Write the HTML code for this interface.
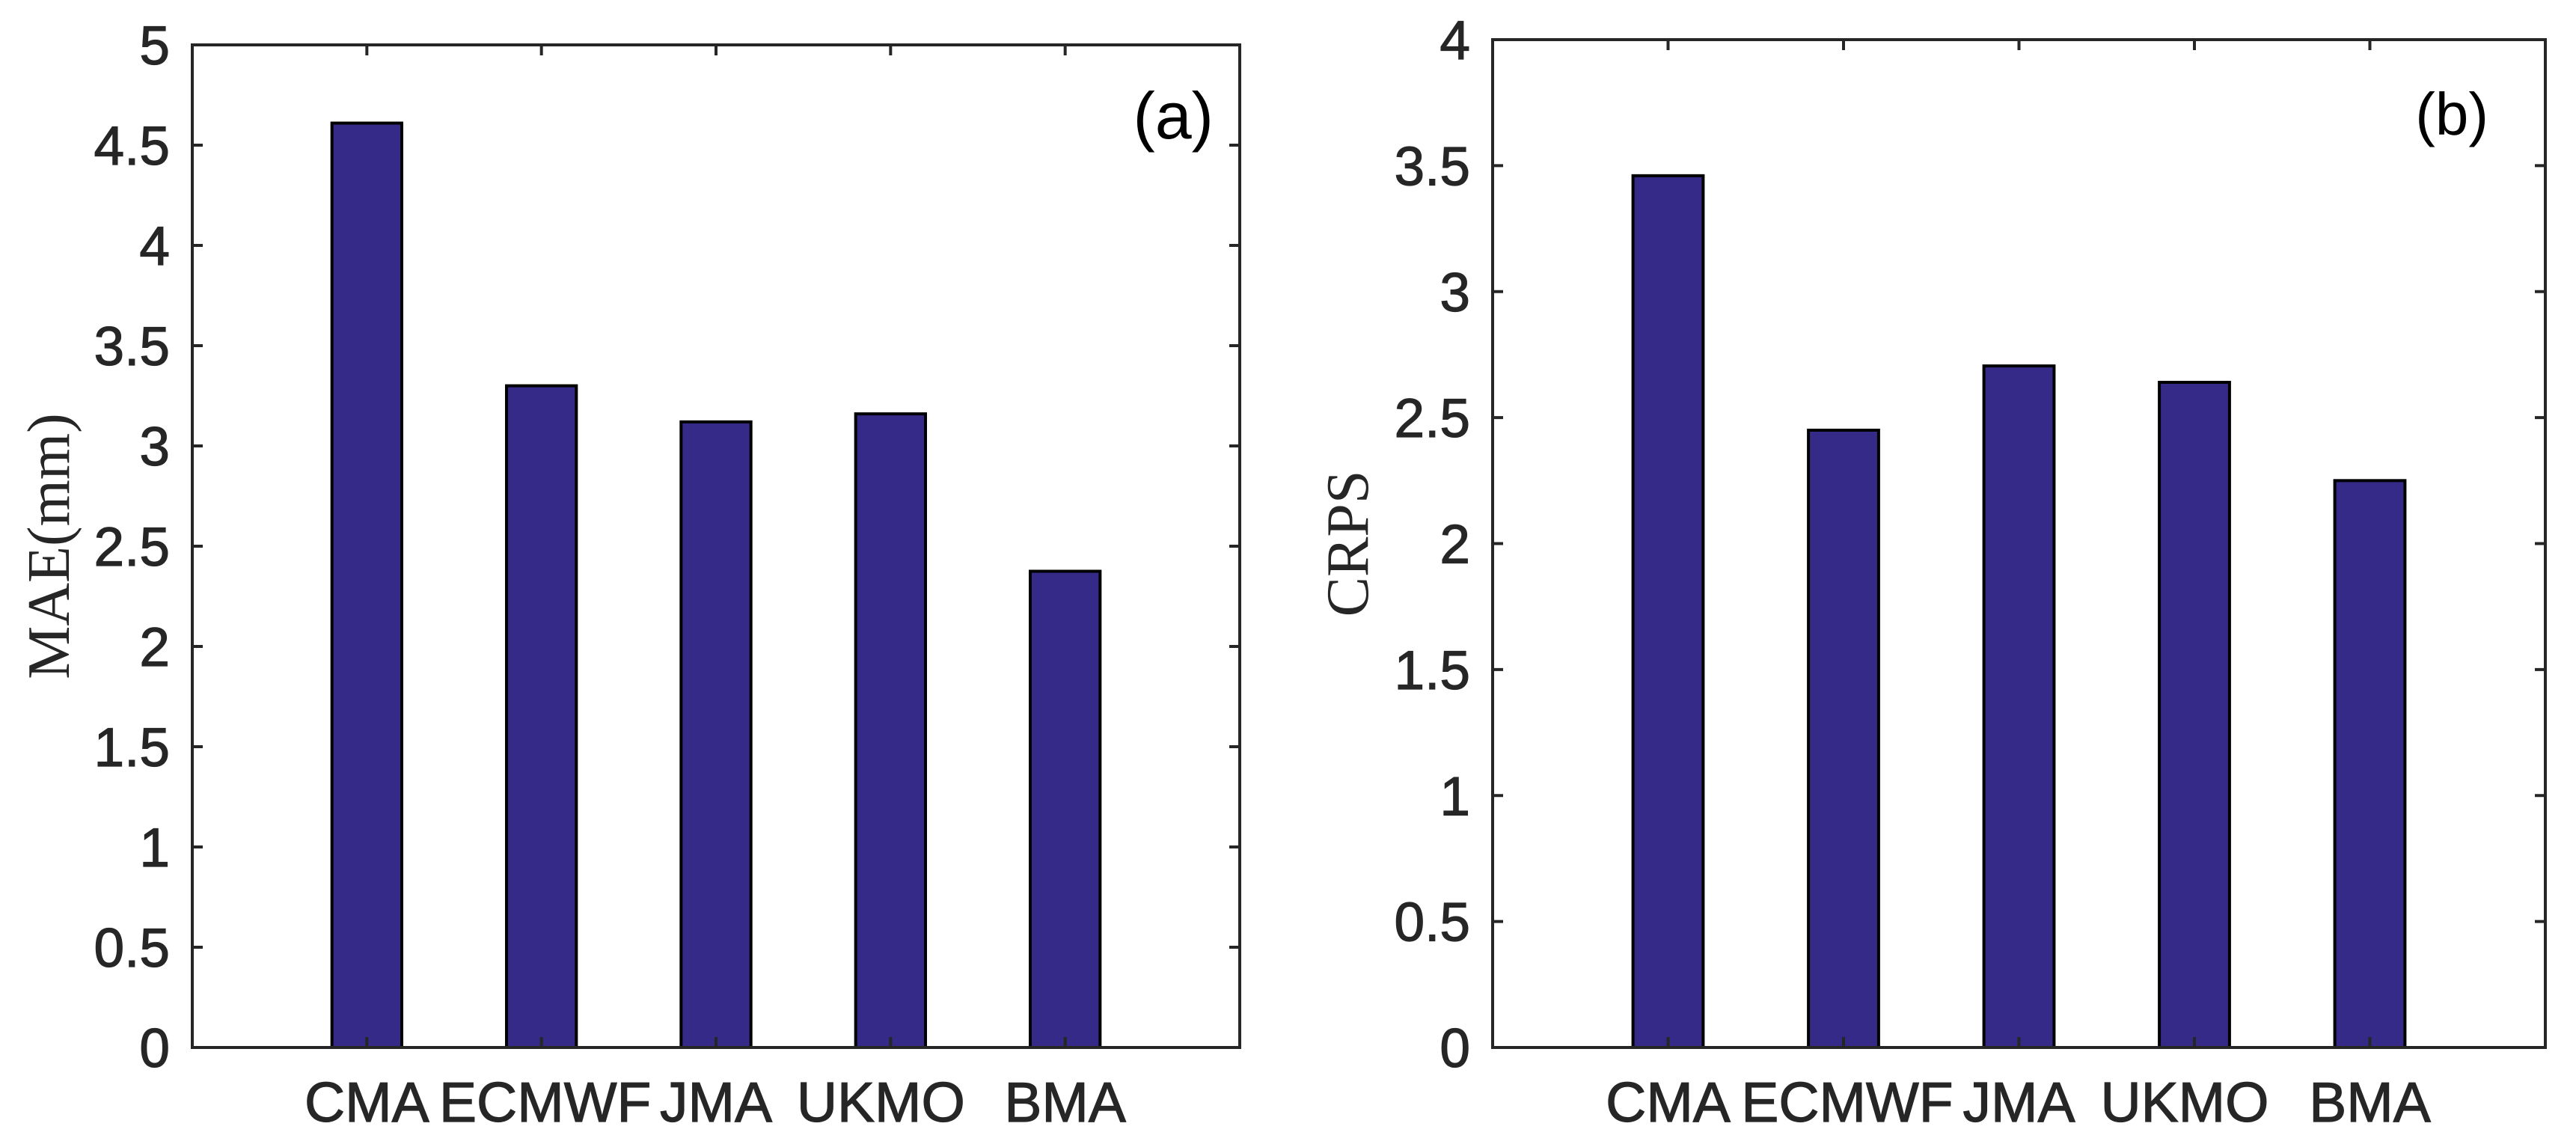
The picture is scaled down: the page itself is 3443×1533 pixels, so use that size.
<!DOCTYPE html>
<html><head><meta charset="utf-8"><style>
html,body{margin:0;padding:0;background:#fff;}
svg{display:block;}
</style></head><body>
<svg id="fig" width="3443" height="1533" viewBox="0 0 3443 1533" xmlns="http://www.w3.org/2000/svg"></svg>
<script>
const categories = ["CMA","ECMWF","JMA","UKMO","BMA"];
const maeValues = [4.61, 3.30, 3.12, 3.16, 2.375];
const crpsValues = [3.46, 2.45, 2.705, 2.64, 2.25];
const maeTicks = ["0","0.5","1","1.5","2","2.5","3","3.5","4","4.5","5"];
const crpsTicks = ["0","0.5","1","1.5","2","2.5","3","3.5","4"];

const NS = "http://www.w3.org/2000/svg";
const svg = document.getElementById("fig");
function mk(tag, attrs, parent) {
  const e = document.createElementNS(NS, tag);
  for (const k in attrs) e.setAttribute(k, attrs[k]);
  (parent || svg).appendChild(e);
  return e;
}
const labelDx = [0, 5, 0, -13, 0];

function panel(cfg) {
  const g = mk("g", {});
  
  
  const {L, R, T, B, ymax} = cfg;
  const xs = i => L + (i + 1) * (R - L) / 6;
  const ys = v => B - v / ymax * (B - T);
  const bw = 0.4 * (R - L) / 6;
  cfg.values.forEach((v, i) => {
    const r = mk("rect", {x: xs(i) - bw/2, y: ys(v), width: bw, height: B - ys(v), fill: "#352a87", stroke: "#000", "stroke-width": 4}, g);
    
    
  });
  const box = mk("rect", {x: L, y: T, width: R - L, height: B - T, fill: "none", stroke: "#262626", "stroke-width": 4}, g);
  
  
  cfg.ticks.forEach(t => {
    const y = ys(parseFloat(t));
    mk("line", {x1: L, x2: L + 14, y1: y, y2: y, stroke: "#262626", "stroke-width": 4}, g);
    mk("line", {x1: R, x2: R - 14, y1: y, y2: y, stroke: "#262626", "stroke-width": 4}, g);
    const tx = mk("text", {x: L - 30, y: y + 26, "text-anchor": "end", "font-family": "Liberation Sans, sans-serif", "font-size": 73, fill: "#262626", stroke: "#262626", "stroke-width": 1.2}, g);
    tx.textContent = t;
    
    
  });
  categories.forEach((c, i) => {
    const x = xs(i);
    mk("line", {x1: x, x2: x, y1: B, y2: B - 14, stroke: "#262626", "stroke-width": 4}, g);
    mk("line", {x1: x, x2: x, y1: T, y2: T + 14, stroke: "#262626", "stroke-width": 4}, g);
    const tx = mk("text", {x: x + labelDx[i], y: 1499, "text-anchor": "middle", "font-family": "Liberation Sans, sans-serif", "font-size": 75, fill: "#262626", stroke: "#262626", "stroke-width": 1.2}, g);
    tx.textContent = c;
    
    
  });
  const cy = (T + B) / 2;
  const yl = mk("text", {x: cfg.ylx, y: cy, "text-anchor": "middle", "font-family": "Liberation Serif, serif", "font-size": 80, fill: "#262626", transform: `rotate(-90 ${cfg.ylx} ${cy})`}, g);
  yl.textContent = cfg.ylabel;
  
  
  const pl = mk("text", {x: cfg.lx, y: cfg.ly, "text-anchor": "end", "font-family": "Liberation Sans, sans-serif", "font-size": cfg.lsize, fill: "#000"}, g);
  pl.textContent = cfg.letter;
  
  
}

panel({name: "mae-chart", L: 257, R: 1657, T: 60, B: 1400, ymax: 5, values: maeValues, ticks: maeTicks, ylabel: "MAE(mm)", ylx: 92, letter: "(a)", lx: 1622, ly: 185, lsize: 88});
panel({name: "crps-chart", L: 1995, R: 3402, T: 53, B: 1400, ymax: 4, values: crpsValues, ticks: crpsTicks, ylabel: "CRPS", ylx: 1828, letter: "(b)", lx: 3326, ly: 180, lsize: 80});
</script>
</body></html>
